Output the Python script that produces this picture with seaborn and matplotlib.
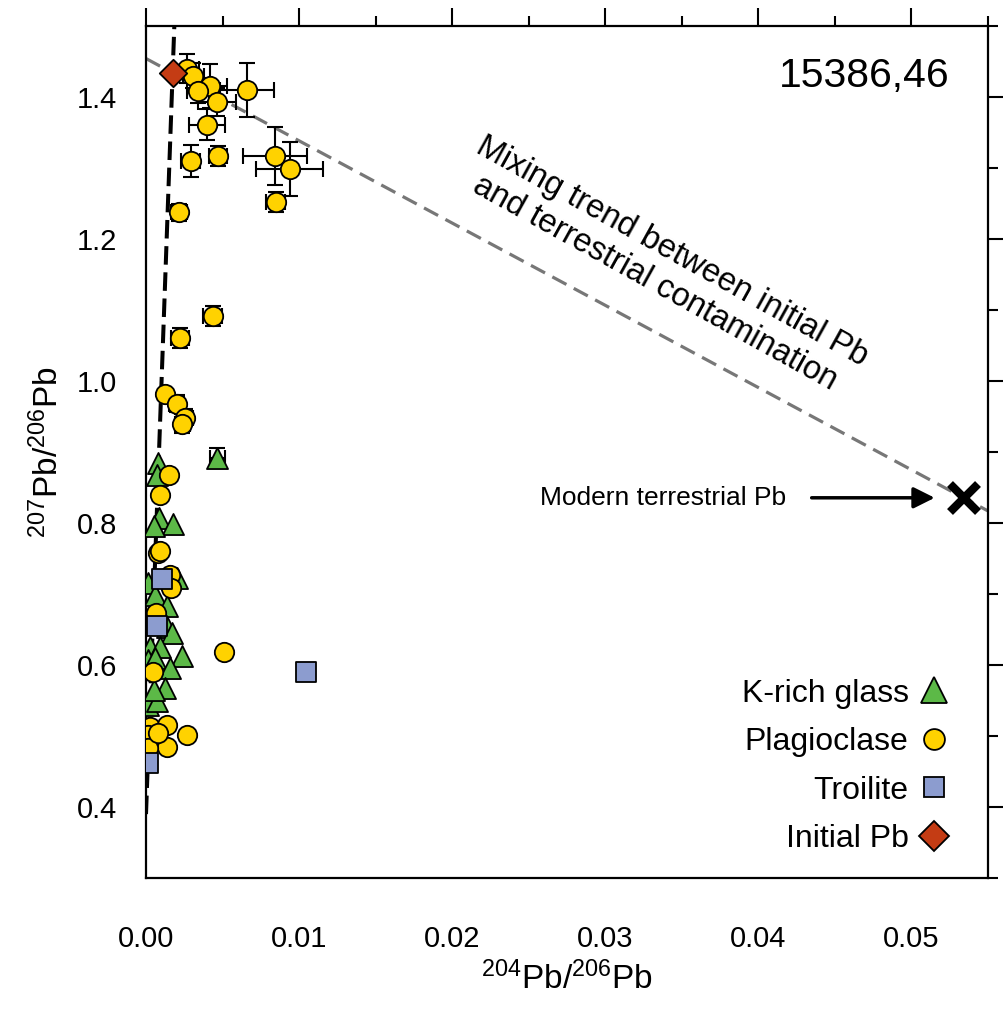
import numpy as np
import pandas as pd
import matplotlib
matplotlib.use("Agg")
import matplotlib.pyplot as plt
import seaborn as sns
from matplotlib.lines import Line2D
from matplotlib.ticker import MultipleLocator

# ---- data (204Pb/206Pb, 207Pb/206Pb) ----
# K-rich glass
glass_x = [0.00078, 0.00069, 0.00085, 0.00178, 0.00054, 0.00015, 0.0020, 0.00059,
           0.00135, 0.00135, 0.00168, 0.00026, 0.00091, 0.00233, 0.00015, 0.00059,
           0.00157, 0.00124, 0.00015, 0.0007, 0.0005, 0.00465]
glass_y = [0.885, 0.868, 0.807, 0.798, 0.796, 0.716, 0.723, 0.699,
           0.683, 0.654, 0.645, 0.626, 0.626, 0.612, 0.607, 0.610,
           0.596, 0.568, 0.544, 0.549, 0.565, 0.892]
glass_xerr = [0] * 21 + [0.0005]
glass_yerr = [0] * 21 + [0.013]

# Plagioclase
plag_x = [0.00265, 0.00309, 0.00417, 0.00341, 0.00465, 0.0066, 0.0040, 0.00291,
          0.00472, 0.00842, 0.00939, 0.00846, 0.00215, 0.00435, 0.00222, 0.00124,
          0.0020, 0.00254, 0.00237, 0.00152, 0.00091, 0.00076, 0.0009, 0.00157,
          0.00163, 0.00063, 0.00048, 0.0051, 0.00026, 0.00135, 0.00015, 0.00265,
          0.00135, 0.00015, 0.0008]
plag_y = [1.440, 1.430, 1.416, 1.409, 1.393, 1.410, 1.361, 1.310,
          1.317, 1.317, 1.299, 1.252, 1.238, 1.092, 1.061, 0.982,
          0.968, 0.948, 0.940, 0.867, 0.839, 0.758, 0.760, 0.727,
          0.709, 0.673, 0.590, 0.619, 0.513, 0.516, 0.502, 0.502,
          0.485, 0.483, 0.504]
plag_xerr = [0.0008, 0.0007, 0.0011, 0.0007, 0.00125, 0.00174, 0.00116, 0.0006,
             0.0006, 0.00207, 0.0022, 0.0006, 0.0005, 0.0006, 0.0006, 0,
             0.0005, 0.0005, 0.0005] + [0] * 16
plag_yerr = [0.020, 0.018, 0.031, 0.018, 0.020, 0.0376, 0.022, 0.023,
             0.014, 0.0405, 0.038, 0.014, 0.012, 0.014, 0.014, 0,
             0.012, 0.012, 0.013] + [0] * 16

# Troilite
troi_x = [0.00102, 0.0007, 0.01044, 0.00015]
troi_y = [0.721, 0.655, 0.590, 0.462]

# Initial Pb and modern terrestrial Pb
init_x, init_y = [0.00174], [1.434]
modern_x, modern_y = [0.0534], [0.8355]
isochron_y0 = 0.39   # where the black dashed trend meets x = 0

labels = ["K-rich glass", "Plagioclase", "Troilite", "Initial Pb"]
colors = {"K-rich glass": "#5CB947", "Plagioclase": "#FFD200",
          "Troilite": "#8C9CCF", "Initial Pb": "#C43C14"}
markers = {"K-rich glass": "^", "Plagioclase": "o", "Troilite": "s", "Initial Pb": "D"}
sizes = {"K-rich glass": 230, "Plagioclase": 195, "Troilite": 190, "Initial Pb": 195}

df = pd.concat([
    pd.DataFrame({"phase": labels[0], "x": glass_x, "y": glass_y, "xerr": glass_xerr, "yerr": glass_yerr}),
    pd.DataFrame({"phase": labels[1], "x": plag_x, "y": plag_y, "xerr": plag_xerr, "yerr": plag_yerr}),
    pd.DataFrame({"phase": labels[2], "x": troi_x, "y": troi_y, "xerr": 0.0, "yerr": 0.0}),
    pd.DataFrame({"phase": labels[3], "x": init_x, "y": init_y, "xerr": 0.0, "yerr": 0.0}),
], ignore_index=True)

sns.set_theme(style="white")
plt.rcParams["font.family"] = ["Liberation Sans", "DejaVu Sans"]
plt.rcParams["mathtext.fontset"] = "custom"
plt.rcParams["mathtext.rm"] = "Liberation Sans"
plt.rcParams["mathtext.it"] = "Liberation Sans:italic"
plt.rcParams["mathtext.bf"] = "Liberation Sans:bold"
for key in ["text.color", "axes.labelcolor", "xtick.color", "ytick.color", "axes.edgecolor"]:
    plt.rcParams[key] = "black"

fig = plt.figure(figsize=(10.04, 10.16), dpi=100)
ax = fig.add_axes([146 / 1004, 1 - 878 / 1016, 842 / 1004, 852 / 1016])

xlim = (0, 0.055)
ylim = (0.3, 1.5)

# mixing trend: initial Pb -> modern terrestrial Pb
slope = (modern_y[0] - init_y[0]) / (modern_x[0] - init_x[0])
mx = np.array(xlim)
ax.plot(mx, init_y[0] + slope * (mx - init_x[0]), color="#777777", lw=2.3,
        dashes=(5, 2.6), zorder=1)

# steep trend through initial Pb
iy = np.array([isochron_y0, ylim[1]])
ax.plot(init_x[0] * (iy - isochron_y0) / (init_y[0] - isochron_y0), iy,
        color="black", lw=2.9, dashes=(4.6, 1.9), zorder=1)

# error bars
err = df[(df.xerr > 0) | (df.yerr > 0)]
ax.errorbar(err.x, err.y, xerr=err.xerr, yerr=err.yerr, fmt="none", ecolor="black",
            elinewidth=1.5, capsize=6, capthick=1.5, zorder=2)

for i, lab in enumerate(labels):
    sub = df[df.phase == lab]
    sns.scatterplot(data=sub, x="x", y="y", ax=ax, marker=markers[lab], s=sizes[lab],
                    color=colors[lab], edgecolor="black", linewidth=1.3,
                    legend=False, zorder=3 + i)

# modern terrestrial Pb
ax.plot(modern_x, modern_y, marker="x", color="black", ms=20, mew=6, ls="none",
        zorder=6, clip_on=False)
ax.annotate("", xy=(modern_x[0] - 0.0017, modern_y[0]),
            xytext=(modern_x[0] - 0.0101, modern_y[0]),
            arrowprops=dict(arrowstyle="-|>", color="black", lw=2.5, mutation_scale=32))
ax.text(modern_x[0] - 0.0116, modern_y[0], "Modern terrestrial Pb", ha="right",
        va="center", fontsize=19)

ax.text(0.0338, 1.160, "Mixing trend between initial Pb\nand terrestrial contamination",
        rotation=-29, rotation_mode="anchor", ha="center", va="center",
        fontsize=23.5, linespacing=1.2)
ax.text(0.0469, 1.43, "15386,46", ha="center", va="center", fontsize=29.5)

ax.set_xlim(*xlim)
ax.set_ylim(*ylim)
ax.xaxis.set_major_locator(MultipleLocator(0.01))
ax.xaxis.set_minor_locator(MultipleLocator(0.005))
ax.yaxis.set_major_locator(MultipleLocator(0.2))
ax.yaxis.set_minor_locator(MultipleLocator(0.1))
ax.xaxis.set_major_formatter(lambda v, p: f"{v:.2f}")
ax.yaxis.set_major_formatter(lambda v, p: f"{v:.1f}")
ax.tick_params(which="both", direction="out", top=True, right=True, width=1.5,
               color="black", labelsize=21, labelcolor="black")
ax.tick_params(which="major", length=13)
ax.tick_params(which="minor", length=7)
ax.tick_params(axis="x", pad=21)
ax.tick_params(axis="y", pad=8)
for sp in ax.spines.values():
    sp.set_linewidth(1.6)
    sp.set_color("black")

ax.set_xlabel(r"$^{204}$Pb/$^{206}$Pb", fontsize=24, color="black", labelpad=6)
ax.set_ylabel(r"$^{207}$Pb/$^{206}$Pb", fontsize=24, color="black", labelpad=8)

handles = [Line2D([], [], ls="none", marker=markers[l], markerfacecolor=colors[l],
                  markeredgecolor="black", markeredgewidth=1.3,
                  markersize=19 if l == "K-rich glass" else 15) for l in labels]
ax.legend(handles, labels, loc="lower right", bbox_to_anchor=(0.955, 0.028),
          markerfirst=False, frameon=False, fontsize=23, handlelength=1.0,
          handletextpad=0.3, labelspacing=0.58, borderpad=0, borderaxespad=0)

fig.savefig("out.png", dpi=100)
